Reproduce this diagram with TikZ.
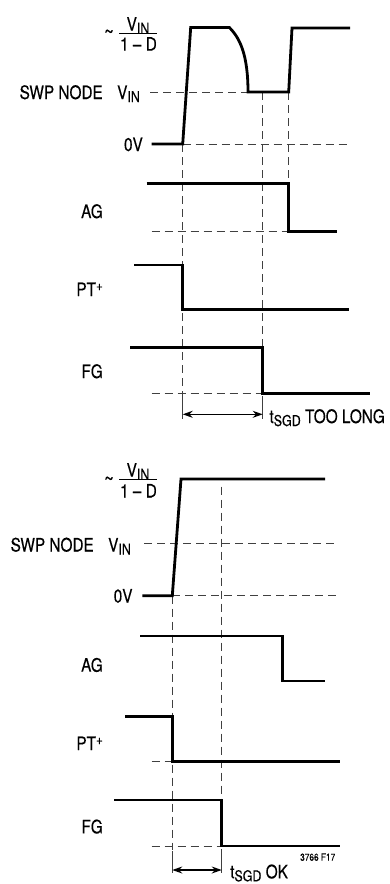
\documentclass[tikz,border=0pt]{standalone}
\usepackage{fontspec}
\setmainfont{TeX Gyre Heros}[FakeStretch=0.83, FakeBold=0.3]
\usetikzlibrary{arrows.meta}
\newcommand\sbs[1]{\raisebox{-3pt}{\fontsize{15}{15}\selectfont #1}}
\newcommand\sps[1]{\raisebox{5.5pt}{\fontsize{14}{14}\selectfont #1}}
\begin{document}
\begin{tikzpicture}[x=1pt,y=-1pt,
  lbl/.style={inner sep=0pt, font=\fontsize{18.5}{20}\selectfont},
  small/.style={inner sep=0pt, font=\fontsize{10}{12}\selectfont},
  tildestyle/.style={inner sep=0pt, font=\fontsize{20}{20}\selectfont},
  wave/.style={line width=2.8pt, line join=miter},
  guide/.style={line width=0.8pt, black!75, dash pattern=on 8pt off 5pt},
  tickline/.style={line width=0.8pt, black!75},
  dim/.style={line width=1.3pt, {Stealth[length=10pt,width=7pt]}-{Stealth[length=10pt,width=7pt]}},
  bar/.style={line width=1pt}
]
\useasboundingbox (0,0) rectangle (390,884);

% ================= TOP DIAGRAM =================
% labels
\node[lbl, anchor=base] (t1num) at (138,30.7) {V\sbs{IN}};
\node[lbl, anchor=base] (t1den) at (138.5,50.7) {1 – D};
\coordinate (t1barl) at (119,33.5);
\coordinate (t1barr) at (157,33.5);
\draw[bar] (t1barl) -- (t1barr);
\node[tildestyle] (t1tilde) at (109,34) {\textasciitilde};
\node[lbl, anchor=base east] (t1swp) at (103,99) {SWP NODE};
\node[lbl, anchor=base west] (t1vin) at (117,99) {V\sbs{IN}};
\node[lbl, anchor=base east] (t1zero) at (143,151) {0V};
\node[lbl, anchor=base east] (t1ag) at (103,218) {AG};
\node[lbl, anchor=base east] (t1pt) at (103,296) {PT\sps{+}};
\node[lbl, anchor=base east] (t1fg) at (103,378) {FG};
\node[lbl, anchor=base west] (t1tsgd) at (269.3,423) {t\sbs{SGD} TOO LONG};

% guides
\draw[guide] (150,92) -- (247,92);
\draw[guide] (182.7,144) -- (348,144);
\draw[guide] (151.7,231.7) -- (288.7,231.7);
\draw[guide] (151.7,393.3) -- (262.7,393.3);
\draw[guide] (182.7,144) -- (182.7,398);
\draw[guide] (262.7,92) -- (262.7,347.3);
\draw[guide] (288.7,92) -- (288.7,183.7);
\draw[tickline] (182.7,398) -- (182.7,419);
\draw[tickline] (262.7,396) -- (262.7,419);

% waveforms
\draw[wave] (151.7,144) -- (182.7,144) -- (190.7,27.5) -- (229.3,27.5)
  .. controls (240,38) and (248,55) .. (248,92) -- (288.7,92) -- (292,28) -- (350,28);
\draw[wave] (146.7,183.7) -- (288.7,183.7) -- (288.7,231.7) -- (337.3,231.7);
\draw[wave] (134,265) -- (182.7,265) -- (182.7,309.7) -- (349.3,309.7);
\draw[wave] (130,347.3) -- (262.7,347.3) -- (262.7,393.3) -- (370,393.3);

\coordinate (t1al) at (182.7,414.3);
\coordinate (t1ar) at (262.7,414.3);
\draw[dim] (t1al) -- (t1ar);

% ================= BOTTOM DIAGRAM =================
\node[lbl, anchor=base] (b1num) at (138,476.7) {V\sbs{IN}};
\node[lbl, anchor=base] (b1den) at (138.5,497.5) {1 – D};
\coordinate (b1barl) at (119,479.5);
\coordinate (b1barr) at (157,479.5);
\draw[bar] (b1barl) -- (b1barr);
\node[tildestyle] (b1tilde) at (109,481) {\textasciitilde};
\node[lbl, anchor=base east] (b1swp) at (94,551.5) {SWP NODE};
\node[lbl, anchor=base west] (b1vin) at (108,551.5) {V\sbs{IN}};
\node[lbl, anchor=base east] (b1zero) at (132.7,602.5) {0V};
\node[lbl, anchor=base east] (b1ag) at (103,671.7) {AG};
\node[lbl, anchor=base east] (b1pt) at (103,750) {PT\sps{+}};
\node[lbl, anchor=base east] (b1fg) at (103,833.3) {FG};
\node[lbl, anchor=base west] (b1tsgd) at (230,878.3) {t\sbs{SGD} OK};
\node[small, anchor=base west] (b1fig) at (300,860.7) {3766 F17};

% guides
\draw[guide] (144,543.7) -- (338.3,543.7);
\draw[guide] (172.3,595.7) -- (338.3,595.7);
\draw[guide] (151.7,761.3) -- (172.3,761.3);
\draw[guide] (151.7,846) -- (221.7,846);
\draw[guide] (172.3,595.7) -- (172.3,850);
\draw[guide] (221.7,486.7) -- (221.7,800);
\draw[tickline] (172.3,851) -- (172.3,873);
\draw[tickline] (221.7,849) -- (221.7,873);

% waveforms
\draw[wave] (142.3,595.7) -- (172.3,595.7) -- (181,479) -- (325,479);
\draw[wave] (140,636) -- (282.7,636) -- (282.7,681) -- (325,681);
\draw[wave] (125,716.7) -- (172.3,716.7) -- (172.3,761.3) -- (340,761.3);
\draw[wave] (114.3,800) -- (221.7,800) -- (221.7,846) -- (340,846);

\coordinate (b1al) at (172.3,870);
\coordinate (b1ar) at (221.7,870);
\draw[dim] (b1al) -- (b1ar);
\end{tikzpicture}
\end{document}
